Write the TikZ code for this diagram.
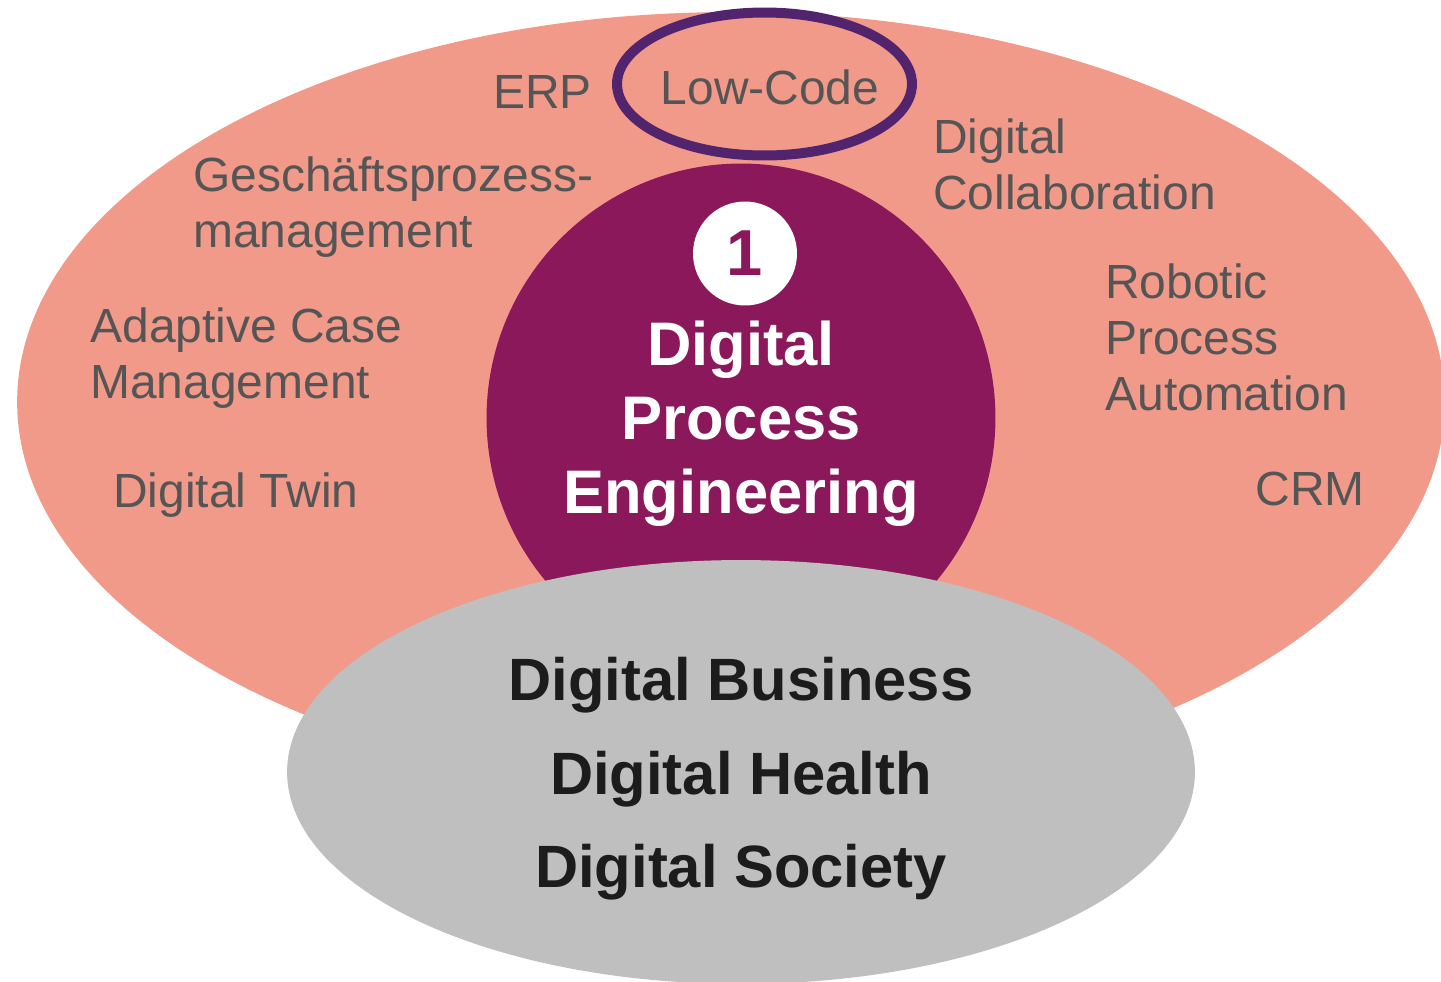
\documentclass[tikz,border=0pt]{standalone}
\usepackage{fontspec}
\setmainfont{Liberation Sans}
\usetikzlibrary{shapes.geometric}

\definecolor{salmon}{HTML}{F29A8A}
\definecolor{dpepurple}{HTML}{8B185B}
\definecolor{ringpurple}{HTML}{52246E}
\definecolor{labelgray}{HTML}{555555}
\definecolor{fieldgray}{HTML}{BFBFBF}
\definecolor{darktext}{HTML}{1C1C1C}

\tikzset{
  topic/.style={text=labelgray, font=\fontsize{27.3}{31.8}\selectfont, align=left, anchor=west, inner sep=0pt},
  blob/.style={ellipse, inner sep=0pt},
}

\begin{document}
\begin{tikzpicture}[x=0.02cm, y=-0.02cm]
  \useasboundingbox (0,0) rectangle (1441,981);
  \node[blob, fill=salmon, minimum width=28.56cm, minimum height=15.6cm] (tools) at (731,402) {};
  \node[circle, inner sep=0pt, fill=dpepurple, minimum size=10.18cm] (core) at (741,418) {};
  \node[text=white, align=center, font=\bfseries\fontsize{35}{42}\selectfont] (dpe) at (741,424) {Digital\\Process\\Engineering};
  \node[circle, inner sep=0pt, fill=white, minimum size=2.08cm, text=dpepurple,
    font=\bfseries\fontsize{37}{40}\selectfont] (one) at (745,253.5) {1};
  \node[blob, draw=ringpurple, line width=0.2cm, minimum width=5.9cm, minimum height=2.86cm] (ring) at (764.5,84) {};
  \node[blob, fill=fieldgray, minimum width=18.16cm, minimum height=8.48cm] (base) at (741,772) {};
  \node[text=darktext, align=center, font=\bfseries\fontsize{34}{53.3}\selectfont] (fields) at (741,779) {Digital Business\\Digital Health\\Digital Society};
  \node[topic] (erp) at (493,92) {ERP};
  \node[topic, anchor=center] (lowcode) at (770,87) {Low-Code};
  \node[topic] (collab) at (933,164) {Digital\\Collaboration};
  \node[topic] (bpm) at (193,207) {Geschäftsprozess-\\management};
  \node[topic] (acm) at (90,358) {Adaptive Case\\Management};
  \node[topic] (twin) at (113,495) {Digital Twin};
  \node[topic] (rpa) at (1105,337) {Robotic\\Process\\Automation};
  \node[topic, anchor=east] (crm) at (1365,489) {CRM};
\end{tikzpicture}
\end{document}
